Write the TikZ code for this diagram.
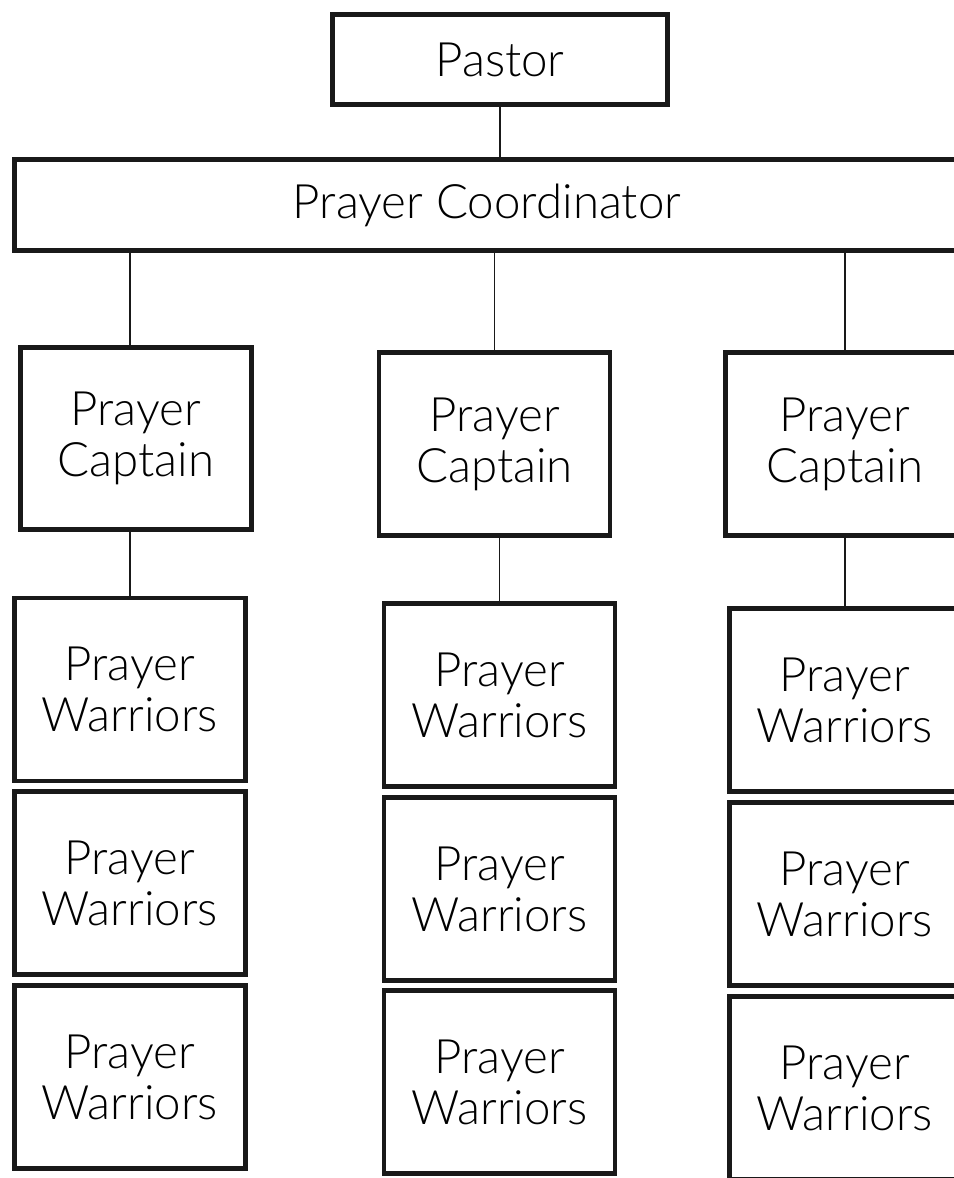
\documentclass[tikz,border=0pt]{standalone}
\usepackage{fontspec}
\setmainfont{Lato Light}
\usetikzlibrary{positioning}

\begin{document}
\begin{tikzpicture}[x=0.02cm,y=-0.02cm,
	box/.style={draw=black!90, line width=2.8pt, align=center, inner sep=0pt,
		font=\fontsize{27}{29}\selectfont},
	card/.style={box, minimum width=4.62cm, minimum height=3.66cm},
	link/.style={line width=1.1pt, draw=black!90}]
		\useasboundingbox (0,0) rectangle (954,1178);
		\clip (0,0) rectangle (954,1178);

		\node[box, minimum width=6.7cm, minimum height=1.8cm] (pastor) at (500,59.5) {Pastor};
		\node[box, minimum width=18.9cm, minimum height=1.82cm] (coord) at (487,205) {Prayer Coordinator};

		\node[card, minimum height=3.64cm] (cap1) at (136,438.5) {Prayer\\Captain};
		\node[card] (cap2) at (494.5,444) {Prayer\\Captain};
		\node[card, minimum width=4.78cm] (cap3) at (845,444) {Prayer\\Captain};

		\node[card] (war11) at (130,689.5) {Prayer\\Warriors};
		\node[card] (war12) at (130,883) {Prayer\\Warriors};
		\node[card] (war13) at (130,1077) {Prayer\\Warriors};

		\node[card] (war21) at (499.5,695) {Prayer\\Warriors};
		\node[card] (war22) at (499.5,889) {Prayer\\Warriors};
		\node[card] (war23) at (499.5,1082) {Prayer\\Warriors};

		\node[card] (war31) at (845,700) {Prayer\\Warriors};
		\node[card] (war32) at (845,894) {Prayer\\Warriors};
		\node[card] (war33) at (845,1088) {Prayer\\Warriors};

		\draw[link] (pastor.south) -- (pastor.south |- coord.north);

		\draw[link] (war11.north |- coord.south) -- (war11.north |- cap1.north);
		\draw[link] (cap2.north |- coord.south) -- (cap2.north);
		\draw[link] (cap3.north |- coord.south) -- (cap3.north);

		\draw[link] (war11.north) -- (war11.north |- cap1.south);
		\draw[link] (war21.north) -- (war21.north |- cap2.south);
		\draw[link] (war31.north) -- (war31.north |- cap3.south);
	\end{tikzpicture}
\end{document}
